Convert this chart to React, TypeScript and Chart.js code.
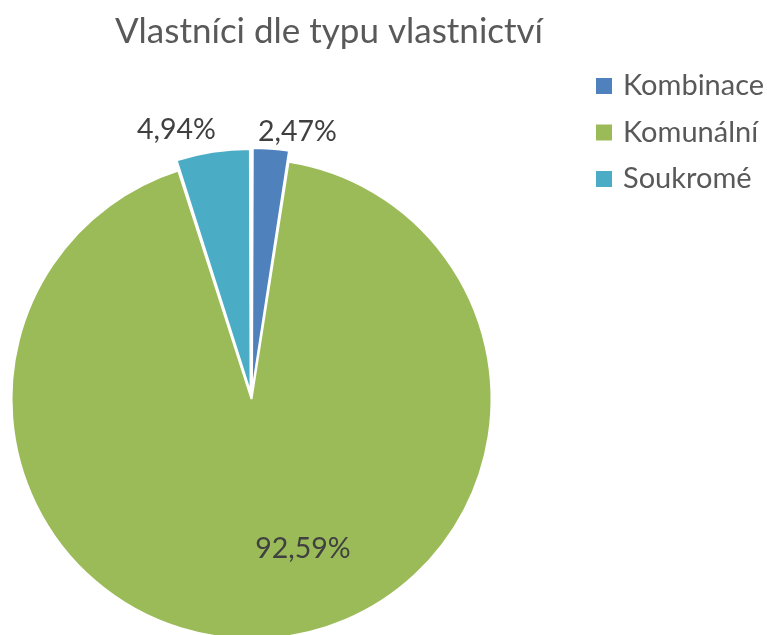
import React, { useEffect, useRef } from "react";
import { Chart, registerables } from "chart.js";

Chart.register(...registerables);

const TITLE = "Vlastníci dle typu vlastnictví";
const categories = ["Kombinace", "Komunální", "Soukromé"];
const values = [2.47, 92.59, 4.94];
const valueLabels = ["2,47%", "92,59%", "4,94%"];
const colors = ["#4F81BD", "#9BBB59", "#4BACC6"];
const explode = [24, 0, 24];
// label placement relative to slice bisector: radius factor, angle shift (deg)
const labelRadius = [1.13, 0.66, 1.165];
const labelAngleShift = [5.3, -14.5, -6.7];

const FONT = "Lato, 'Open Sans', sans-serif";
const W = 767;
const H = 635;
const CANVAS_H = 660;

const overlayPlugin = {
  id: "overlay",
  afterDraw(chart: any) {
    const ctx = chart.ctx;
    ctx.save();
    // title
    ctx.fillStyle = "#595959";
    ctx.font = `35px ${FONT}`;
    ctx.textAlign = "center";
    ctx.textBaseline = "alphabetic";
    ctx.fillText(TITLE, 329, 43);

    // legend
    const labels = chart.data.labels as string[];
    const bg = chart.data.datasets[0].backgroundColor as string[];
    ctx.font = `29px ${FONT}`;
    ctx.textAlign = "left";
    ctx.textBaseline = "middle";
    labels.forEach((lab, i) => {
      const cy = 86 + i * 46.5;
      ctx.fillStyle = bg[i];
      ctx.fillRect(596, cy - 8, 16, 16);
      ctx.fillStyle = "#595959";
      ctx.fillText(lab, 623, cy);
    });

    // data labels
    const meta = chart.getDatasetMeta(0);
    ctx.fillStyle = "#404040";
    ctx.font = `28.5px ${FONT}`;
    ctx.textAlign = "center";
    ctx.textBaseline = "middle";
    meta.data.forEach((arc: any, i: number) => {
      const p = arc.getProps(["x", "y", "startAngle", "endAngle", "outerRadius"], true);
      const mid = (p.startAngle + p.endAngle) / 2 + (labelAngleShift[i] * Math.PI) / 180;
      const r = p.outerRadius * labelRadius[i];
      ctx.fillText(valueLabels[i], p.x + Math.cos(mid) * r, p.y + Math.sin(mid) * r);
    });
    ctx.restore();
  },
};

export default function App() {
  const ref = useRef<HTMLCanvasElement>(null);
  useEffect(() => {
    if (!ref.current) return;
    const chart = new Chart(ref.current, {
      type: "pie",
      data: {
        labels: categories,
        datasets: [
          {
            data: values,
            backgroundColor: colors,
            borderColor: "#ffffff",
            borderWidth: 2,
            offset: explode,
          },
        ],
      },
      options: {
        responsive: false,
        animation: false,
        devicePixelRatio: 1,
        radius: 240,
        layout: { padding: { left: 0, right: W - 503, top: 399 - (CANVAS_H - 399), bottom: 0 } },
        plugins: {
          legend: { display: false },
          title: { display: false },
          tooltip: { enabled: false },
        },
      } as any,
      plugins: [overlayPlugin],
    });
    return () => chart.destroy();
  }, []);
  return (
    <div
      style={{
        position: "fixed",
        left: 0,
        top: 0,
        width: W,
        height: H,
        overflow: "hidden",
        background: "#ffffff",
      }}
    >
      <canvas ref={ref} width={W} height={CANVAS_H} style={{ width: W, height: CANVAS_H, display: "block" }} />
    </div>
  );
}
